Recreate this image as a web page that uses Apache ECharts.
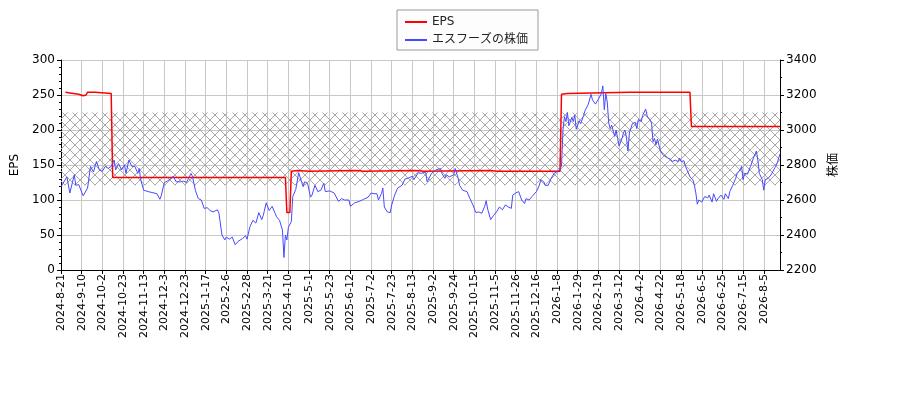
<!DOCTYPE html>
<html>
<head>
<meta charset="utf-8">
<script src="https://cdn.jsdelivr.net/npm/echarts@6/dist/echarts.min.js"></script>
<style>
  html, body { margin: 0; padding: 0; background: #fff; }
  #chart { width: 900px; height: 400px; }
</style>
</head>
<body>
<div id="chart"></div>
<script>
// tick labels, one every 14 trading days from index 0
const tickLabels = [
  '2024-8-21', '2024-9-10', '2024-10-2', '2024-10-23', '2024-11-13', '2024-12-3',
  '2024-12-23', '2025-1-17', '2025-2-6', '2025-2-28', '2025-3-21', '2025-4-10',
  '2025-5-1', '2025-5-23', '2025-6-12', '2025-7-2', '2025-7-23', '2025-8-13',
  '2025-9-2', '2025-9-24', '2025-10-15', '2025-11-5', '2025-11-26', '2025-12-16',
  '2026-1-8', '2026-1-29', '2026-2-19', '2026-3-12', '2026-4-2', '2026-4-22',
  '2026-5-18', '2026-6-5', '2026-6-25', '2026-7-15', '2026-8-5'
];
const lastDay = 487;

// EPS (left axis), trading-day index -> value
const epsDays = [3, 6, 12, 15, 17, 18, 23, 24, 34, 35, 152, 153, 155, 156, 160, 168, 200, 205,
  240, 246, 290, 296, 338, 339, 343, 344, 385, 386, 392, 426, 427, 487];
const epsValues = [254, 253, 251, 249, 250, 254, 254, 253, 252, 132, 132, 82, 82, 141, 142, 141, 142, 141,
  142, 141, 142, 141, 141, 251, 252, 254, 254, 253, 254, 254, 205, 205];

// share price (right axis), trading-day index -> value
const priceDays = [
  0, 4, 6, 9, 10, 12, 15, 18, 20, 22, 24, 26, 28, 30, 32, 34, 36, 37, 39, 41,
  43, 44, 46, 48, 50, 52, 53, 54, 56, 59, 63, 65, 67, 68, 70, 72, 74, 76, 78, 81,
  83, 85, 88, 89, 91, 93, 95, 97, 99, 101, 103, 106, 107, 109, 111, 112, 114, 116, 118, 120,
  123, 125, 126, 128, 130, 132, 134, 136, 137, 139, 141, 143, 145, 146, 148, 150, 151, 152, 153, 154,
  156, 157, 159, 161, 162, 164, 165, 167, 169, 170, 172, 174, 176, 178, 179, 182, 185, 188, 190, 192,
  195, 196, 199, 202, 205, 208, 210, 212, 214, 215, 217, 218, 219, 221, 223, 224, 226, 228, 231, 233,
  235, 238, 239, 242, 244, 247, 248, 251, 252, 254, 257, 258, 260, 261, 263, 266, 267, 269, 270, 272,
  275, 277, 279, 281, 283, 285, 287, 288, 289, 291, 293, 295, 297, 299, 301, 303, 305, 306, 308, 310,
  312, 314, 315, 317, 319, 320, 322, 324, 325, 327, 328, 330, 332, 334, 335, 337, 339, 340, 341, 342,
  343, 344, 346, 347, 348, 349, 351, 352, 354, 355, 357, 359, 360, 362, 364, 366, 367, 368, 369, 370,
  371, 372, 373, 375, 376, 377, 378, 380, 381, 382, 383, 384, 385, 387, 389, 390, 391, 393, 394, 396,
  397, 399, 400, 401, 402, 403, 404, 406, 408, 409, 411, 413, 414, 416, 418, 419, 420, 422, 423, 424,
  426, 428, 429, 430, 431, 432, 434, 436, 438, 439, 441, 442, 444, 445, 447, 449, 450, 452, 453, 455,
  457, 458, 460, 461, 462, 463, 465, 467, 469, 471, 472, 473, 475, 476, 477, 479, 481, 482, 484, 485,
  487
];
const priceValues = [
  2676, 2732, 2640, 2744, 2684, 2688, 2624, 2668, 2792, 2760, 2820, 2772, 2764, 2792, 2780, 2792, 2828, 2772, 2808, 2772,
  2800, 2752, 2828, 2792, 2792, 2752, 2780, 2716, 2656, 2648, 2640, 2636, 2604, 2628, 2700, 2708, 2720, 2736, 2704, 2704,
  2708, 2700, 2752, 2736, 2656, 2608, 2600, 2552, 2556, 2540, 2532, 2544, 2524, 2400, 2372, 2388, 2376, 2388, 2344, 2364,
  2380, 2396, 2376, 2448, 2484, 2468, 2528, 2488, 2512, 2584, 2540, 2564, 2524, 2504, 2484, 2428, 2272, 2400, 2372, 2444,
  2476, 2620, 2660, 2756, 2752, 2676, 2704, 2696, 2616, 2628, 2684, 2648, 2656, 2696, 2648, 2652, 2640, 2592, 2608, 2600,
  2600, 2564, 2584, 2592, 2604, 2616, 2640, 2636, 2636, 2600, 2636, 2668, 2560, 2532, 2528, 2572, 2628, 2668, 2684, 2720,
  2724, 2736, 2716, 2756, 2752, 2760, 2704, 2752, 2744, 2772, 2780, 2752, 2724, 2744, 2732, 2744, 2780, 2724, 2684, 2656,
  2648, 2608, 2572, 2528, 2532, 2524, 2564, 2596, 2548, 2488, 2512, 2532, 2560, 2544, 2572, 2560, 2552, 2628, 2640, 2648,
  2600, 2580, 2608, 2600, 2620, 2616, 2648, 2684, 2716, 2704, 2684, 2684, 2724, 2752, 2748, 2768, 2792, 3000, 3076, 3048,
  3100, 3024, 3072, 3048, 3084, 3004, 3052, 3036, 3084, 3112, 3144, 3204, 3172, 3148, 3176, 3208, 3252, 3116, 3208, 3160,
  3040, 3008, 3028, 2964, 3000, 2952, 2908, 2952, 2984, 3000, 2956, 2880, 2984, 3036, 3044, 3008, 3060, 3048, 3084, 3120,
  3080, 3056, 3040, 2932, 2952, 2916, 2948, 2880, 2856, 2848, 2840, 2832, 2820, 2828, 2820, 2840, 2820, 2824, 2792, 2772,
  2732, 2716, 2684, 2640, 2576, 2600, 2588, 2620, 2612, 2628, 2588, 2636, 2592, 2608, 2628, 2604, 2636, 2608, 2648, 2684,
  2724, 2752, 2772, 2792, 2716, 2752, 2748, 2792, 2840, 2880, 2828, 2752, 2716, 2656, 2716, 2724, 2744, 2744, 2792, 2808,
  2864
];

// shaded band, in EPS-axis units
const bandLow = 121;
const bandHigh = 225;

const font = 'DejaVu Sans, "Noto Sans CJK JP", sans-serif';

// cross-hatch tile for the band
const hatch = document.createElement('canvas');
hatch.width = 10;
hatch.height = 10;
const hctx = hatch.getContext('2d');
hctx.strokeStyle = '#a8a8a8';
hctx.lineWidth = 1;
hctx.beginPath();
hctx.moveTo(0, 0); hctx.lineTo(10, 10);
hctx.moveTo(10, 0); hctx.lineTo(0, 10);
hctx.stroke();

const chart = echarts.init(document.getElementById('chart'));

const option = {
  animation: false,
  textStyle: {fontFamily: font},
  legend: {
    orient: 'vertical',
    left: 397,
    top: 10,
    width: 143,
    padding: [6, 10, 4, 8],
    itemGap: 6,
    itemWidth: 22,
    itemHeight: 2,
    icon: 'rect',
    backgroundColor: '#fdfdfd',
    borderColor: '#999',
    borderWidth: 1,
    borderRadius: 0,
    textStyle: {fontSize: 12, color: '#222', fontFamily: font},
    data: ['EPS', 'エスフーズの株価']
  },
  grid: {left: 61, right: 120, top: 60, bottom: 130, containLabel: false},
  xAxis: {
    type: 'value',
    min: 0,
    max: lastDay,
    interval: 14,
    axisLine: {show: true, lineStyle: {color: '#000'}},
    axisTick: {show: true, length: 4, lineStyle: {color: '#000'}},
    axisLabel: {
      rotate: 90,
      fontSize: 11,
      color: '#000',
      margin: 4,
      showMaxLabel: false,
      formatter: (v) => (v % 14 === 0 && tickLabels[v / 14]) ? tickLabels[v / 14] : ''
    },
    splitLine: {show: true, lineStyle: {color: '#c8c8c8', width: 1}}
  },
  yAxis: [
    {
      type: 'value',
      min: 0,
      max: 300,
      interval: 50,
      name: 'EPS',
      nameLocation: 'middle',
      nameGap: 36,
      nameRotate: 90,
      nameTextStyle: {fontSize: 12, color: '#000'},
      axisLine: {show: true, lineStyle: {color: '#000'}},
      axisTick: {show: true, length: 4, lineStyle: {color: '#000'}},
      minorTick: {show: true, splitNumber: 5, length: 2, lineStyle: {color: '#000'}},
      axisLabel: {fontSize: 12, color: '#000', margin: 6},
      splitLine: {show: true, lineStyle: {color: '#c8c8c8', width: 1}}
    },
    {
      type: 'value',
      min: 2200,
      max: 3400,
      interval: 200,
      position: 'right',
      name: '株価',
      nameLocation: 'middle',
      nameGap: 48,
      nameRotate: 90,
      nameTextStyle: {fontSize: 12, color: '#000'},
      axisLine: {show: true, lineStyle: {color: '#000'}},
      axisTick: {show: true, length: 4, lineStyle: {color: '#000'}},
      minorTick: {show: true, splitNumber: 2, length: 2, lineStyle: {color: '#000'}},
      axisLabel: {fontSize: 12, color: '#000', margin: 6, formatter: (v) => String(v)},
      splitLine: {show: false}
    }
  ],
  series: [
    {
      name: 'EPS',
      type: 'line',
      yAxisIndex: 0,
      data: epsDays.map((d, i) => [d, epsValues[i]]),
      showSymbol: false,
      symbol: 'none',
      lineStyle: {color: '#ff0000', width: 1.5},
      itemStyle: {color: '#ff0000'},
      z: 3,
      markArea: {
        silent: true,
        itemStyle: {color: {image: hatch, repeat: 'repeat'}},
        data: [[{xAxis: 0, yAxis: bandLow}, {xAxis: lastDay, yAxis: bandHigh}]]
      }
    },
    {
      name: 'エスフーズの株価',
      type: 'line',
      yAxisIndex: 1,
      data: priceDays.map((d, i) => [d, priceValues[i]]),
      showSymbol: false,
      symbol: 'none',
      lineStyle: {color: '#4848ff', width: 1},
      itemStyle: {color: '#4848ff'},
      z: 4
    }
  ]
};

chart.setOption(option);
</script>
</body>
</html>
